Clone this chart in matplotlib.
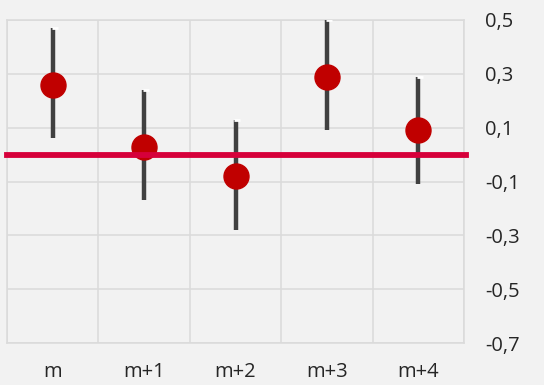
import matplotlib
matplotlib.use("Agg")
import matplotlib.pyplot as plt
import numpy as np

categories = ["m", "m+1", "m+2", "m+3", "m+4"]
values = [0.26, 0.03, -0.08, 0.29, 0.09]
low = [0.06, -0.17, -0.28, 0.09, -0.11]
high = [0.47, 0.24, 0.13, 0.50, 0.29]
yticks = [0.5, 0.3, 0.1, -0.1, -0.3, -0.5, -0.7]

plt.rcParams['font.family'] = ['Open Sans', 'DejaVu Sans']

bg = "#f2f2f2"
fig = plt.figure(figsize=(5.44, 3.85), dpi=100, facecolor=bg)
ax = fig.add_axes([7/544, 42/385, 457/544, 323/385], facecolor=bg)

x = np.arange(len(categories))
ax.vlines(x, low, high, color="#404040", lw=3.2, zorder=3)
ax.plot(x + 0.02, high, ls="none", marker="_", color="white", ms=4, mew=2, zorder=3)
ax.plot(x, values, ls="none", marker="o", color="#c00000", ms=18, zorder=4)
ax.axhline(0, color="#d6003a", lw=4.2, zorder=5, xmin=0, xmax=1.005, clip_on=False)

ax.set_xlim(-0.5, len(categories) - 0.5)
ax.set_ylim(-0.7, 0.5)
ax.set_yticks(yticks)
ax.set_yticklabels([f"{v:.1f}".replace(".", ",") for v in yticks])
ax.set_xticks(x)
ax.set_xticklabels(categories)
ax.set_xticks(np.arange(len(categories) + 1) - 0.5, minor=True)

ax.yaxis.tick_right()
ax.tick_params(axis="y", length=0, pad=15, labelsize=14.5, colors="#262626")
ax.tick_params(axis="x", which="major", length=0, pad=14, labelsize=14.5, colors="#262626")
ax.tick_params(axis="x", which="minor", length=0)
for lab in ax.get_yticklabels():
    lab.set_horizontalalignment("left")
ax.grid(axis="y", color="#dadada", lw=1.1)
ax.grid(axis="x", which="minor", color="#dadada", lw=1.1)
for s in ax.spines.values():
    s.set_color("#dadada")
    s.set_linewidth(1.1)

fig.savefig("out.png", dpi=100, facecolor=bg)
